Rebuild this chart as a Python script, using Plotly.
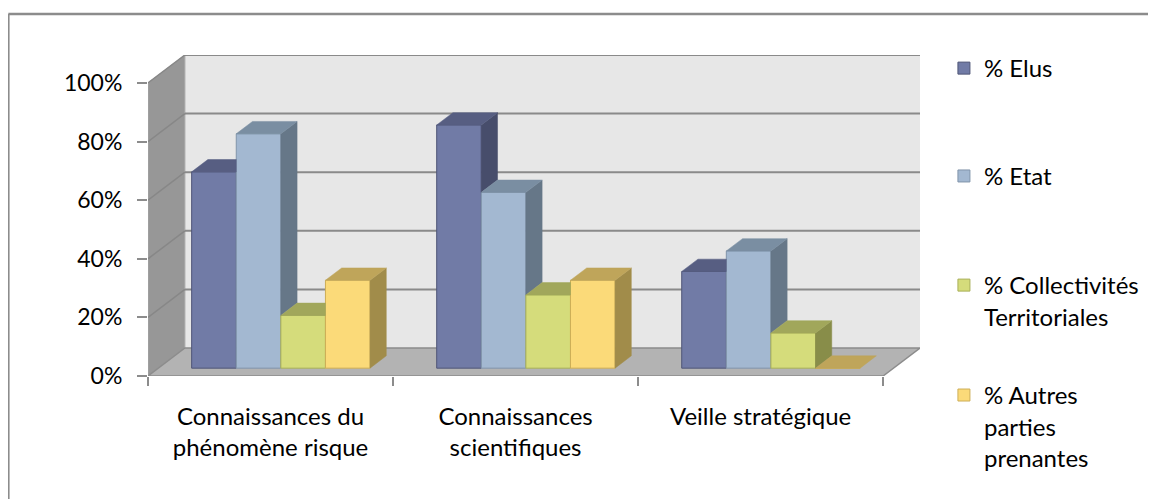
import plotly.graph_objects as go

# ---------------- data ----------------
categories = ["Connaissances du<br>phénomène risque", "Connaissances<br>scientifiques", "Veille stratégique"]
series_names = ["% Elus", "% Etat", "% Collectivités<br>Territoriales", "% Autres<br>parties<br>prenantes"]
elus = [67, 83, 33]
etat = [80, 60, 40]
collectivites = [18, 25, 12]
autres = [30, 30, 0]
y_ticks = [0, 20, 40, 60, 80, 100]
y_tick_labels = ["0%", "20%", "40%", "60%", "80%", "100%"]

series_values = [elus, etat, collectivites, autres]

# ---------------- style ----------------
front_colors = ["#717BA6", "#A3B8D1", "#D5DC7B", "#FBDA79"]
top_colors = ["#575E82", "#7A8EA2", "#A1A75B", "#BFA55A"]
side_colors = ["#474D6B", "#667788", "#888D49", "#A18C4A"]
edge_colors = ["#4F5577", "#8094AA", "#A8AF58", "#CDAE57"]

FONT = "Lato"
FS = 24
FS_Y = 23

DX, DY = 0.1506, 9.56      # full depth of the 3-D box (x in category units, y in % units)
F0, F1 = 0.28, 0.72        # depth band occupied by the bars
W = 0.182                  # bar width (category units)
ddx, ddy = (F1 - F0) * DX, (F1 - F0) * DY
base = F0 * DY
n_cat = len(categories)


def clip(poly, inside, intersect):
    out = []
    if not poly:
        return out
    prev = poly[-1]
    for cur in poly:
        if inside(cur):
            if not inside(prev):
                out.append(intersect(prev, cur))
            out.append(cur)
        elif inside(prev):
            out.append(intersect(prev, cur))
        prev = cur
    return out


def clip_x_le(poly, xc):
    def inter(a, b):
        t = (xc - a[0]) / (b[0] - a[0])
        return (xc, a[1] + t * (b[1] - a[1]))
    return clip(poly, lambda p: p[0] <= xc + 1e-12, inter)


def clip_y_ge(poly, yc):
    def inter(a, b):
        t = (yc - a[1]) / (b[1] - a[1])
        return (a[0] + t * (b[0] - a[0]), yc)
    return clip(poly, lambda p: p[1] >= yc - 1e-12, inter)


fig = go.Figure()

# walls / floor as shapes
shapes = []
x_left, x_right = -0.5, n_cat - 0.5
# back wall
shapes.append(dict(type="rect", xref="x", yref="y", x0=x_left + DX, x1=x_right + DX, y0=DY, y1=100 + DY,
                   fillcolor="#E7E7E7", line=dict(width=0), layer="below"))
# side wall
shapes.append(dict(type="path", xref="x", yref="y",
                   path=f"M{x_left},0 L{x_left + DX},{DY} L{x_left + DX},{100 + DY} L{x_left},100 Z",
                   fillcolor="#979797", line=dict(color="#A8A8A8", width=1), layer="below"))
# floor
shapes.append(dict(type="path", xref="x", yref="y",
                   path=f"M{x_left},0 L{x_right},0 L{x_right + DX},{DY} L{x_left + DX},{DY} Z",
                   fillcolor="#B3B3B3", line=dict(color="#8C8C8C", width=1.5), layer="below"))
# gridlines
for v in y_ticks:
    if v > 0:
        shapes.append(dict(type="line", xref="x", yref="y", x0=x_left + DX, x1=x_right + DX,
                           y0=v + DY, y1=v + DY, line=dict(color="#8A8A8A", width=2), layer="below"))
        shapes.append(dict(type="line", xref="x", yref="y", x0=x_left, x1=x_left + DX,
                           y0=v, y1=v + DY, line=dict(color="#878787", width=1.5), layer="below"))
# chart border (top and left edges; right and bottom fall outside the picture)
shapes.append(dict(type="line", xref="paper", yref="paper", x0=-0.1809, x1=1.8, y0=1.1277, y1=1.1277,
                   line=dict(color="#8C8C8C", width=2.5), layer="below"))
shapes.append(dict(type="line", xref="paper", yref="paper", x0=-0.1809, x1=-0.1809, y0=-1.0, y1=1.1277,
                   line=dict(color="#8C8C8C", width=2.5), layer="below"))

legend_ids = ["legend", "legend2", "legend3", "legend4"]

# front faces as real bars
for k, (name, vals) in enumerate(zip(series_names, series_values)):
    xs = [i + (k - 1.5) * W + F0 * DX for i in range(n_cat)]
    fig.add_trace(go.Bar(
        x=xs, y=vals, base=base, width=W, name=name,
        marker=dict(color=front_colors[k], line=dict(color=edge_colors[k], width=1)),
        legend=legend_ids[k], hoverinfo="skip",
    ))

# 3-D top and side faces derived from the same values
for k, vals in enumerate(series_values):
    top_x, top_y, side_x, side_y = [], [], [], []
    for i in range(n_cat):
        v = vals[i]
        xc = i + (k - 1.5) * W + F0 * DX
        xl, xr = xc - W / 2, xc + W / 2
        yt = base + v
        nxt = series_values[k + 1][i] if k + 1 < len(series_values) else None
        top = [(xl, yt), (xr, yt), (xr + ddx, yt + ddy), (xl + ddx, yt + ddy)]
        pieces = [top]
        if nxt is not None and base + nxt > yt:
            pieces = [p for p in (clip_x_le(top, xr), clip_y_ge(top, base + nxt)) if len(p) >= 3]
        for p in pieces:
            top_x += [q[0] for q in p] + [p[0][0], None]
            top_y += [q[1] for q in p] + [p[0][1], None]
        lo = 0 if nxt is None else nxt
        if v > lo:
            side = [(xr, base + lo), (xr, yt), (xr + ddx, yt + ddy), (xr + ddx, base + lo + ddy)]
            side_x += [q[0] for q in side] + [side[0][0], None]
            side_y += [q[1] for q in side] + [side[0][1], None]
    fig.add_trace(go.Scatter(x=side_x, y=side_y, mode="lines", fill="toself", fillcolor=side_colors[k],
                             line=dict(color=side_colors[k], width=0.5), showlegend=False, hoverinfo="skip"))
    fig.add_trace(go.Scatter(x=top_x, y=top_y, mode="lines", fill="toself", fillcolor=top_colors[k],
                             line=dict(color=top_colors[k], width=0.5), showlegend=False, hoverinfo="skip"))

legend_tops = [1.028, 0.692, 0.352, 0.0096]
legend_common = dict(x=1.031, xanchor="left", yanchor="top", bgcolor="rgba(0,0,0,0)",
                     font=dict(family=FONT, size=FS, color="#000"), valign="top")
layout_legends = {}
for lid, yt in zip(legend_ids, legend_tops):
    layout_legends[lid] = dict(legend_common, y=yt)

# the page body adds an 8px margin, so the figure is 8px smaller than the window
fig.update_layout(
    width=1148, height=491,
    margin=dict(l=140, r=234, t=47, b=123),
    paper_bgcolor="white", plot_bgcolor="white",
    barmode="overlay",
    font=dict(family=FONT, size=FS, color="#000"),
    xaxis=dict(range=[x_left, x_right + DX], tickmode="array", tickvals=list(range(n_cat)),
               ticktext=categories, ticks="", showgrid=False, zeroline=False, showline=False,
               ticklabelstandoff=24, tickfont=dict(family=FONT, size=FS),
               minor=dict(tickmode="array", tickvals=[x_left + j for j in range(n_cat + 1)],
                          ticks="outside", ticklen=9, tickcolor="#8C8C8C", tickwidth=2, showgrid=False),
               fixedrange=True),
    yaxis=dict(range=[0, 100 + DY], tickmode="array", tickvals=y_ticks, ticktext=y_tick_labels,
               ticks="outside", ticklen=10, tickcolor="#8C8C8C", tickwidth=2, showgrid=False,
               zeroline=False, showline=False, ticklabelstandoff=10,
               tickfont=dict(family=FONT, size=FS_Y), fixedrange=True),
    shapes=shapes,
    showlegend=True,
    **layout_legends,
)

fig.write_html("out.html", config={"displayModeBar": False})
